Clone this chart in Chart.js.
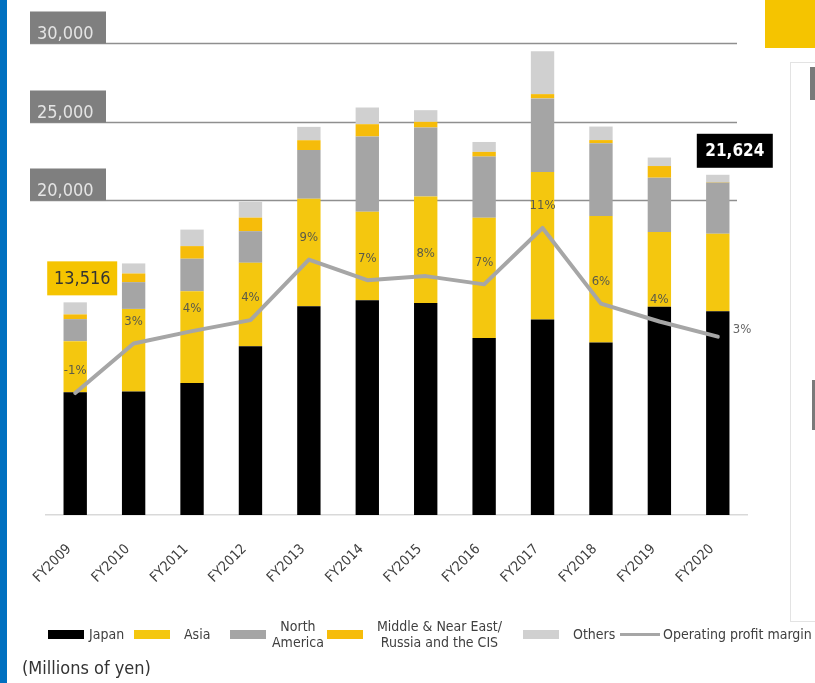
<!DOCTYPE html>
<html>
<head>
<meta charset="utf-8">
<script src="https://cdn.jsdelivr.net/npm/chart.js@4.4.1/dist/chart.umd.min.js"></script>
<style>
    body { margin: 0; background: #fff; font-family: "DejaVu Sans Condensed", "DejaVu Sans", sans-serif; }
    #page { position: relative; width: 815px; height: 683px; overflow: hidden; background: #fff; }
    #chartBox { position: absolute; left: 0; top: 0; width: 815px; height: 683px; }
    .blue-strip { position: absolute; left: 0; top: 0; width: 7px; height: 683px; background: #0070c0; }
    .yellow-block { position: absolute; left: 765px; top: 0; width: 50px; height: 48px; background: #f5c400; }
    .side-panel { position: absolute; left: 790px; top: 62px; width: 40px; height: 558px; border-left: 1px solid #e3e3e3; border-top: 1px solid #e3e3e3; border-bottom: 1px solid #e3e3e3; }
    .side-mark { position: absolute; background: #7a7a7a; }
    .legend-item { position: absolute; top: 619px; height: 30px; display: flex; align-items: center; font-size: 14px; color: #404040; white-space: nowrap; }
    .legend-item .swatch { width: 36px; height: 9px; margin-right: 5px; }
    .legend-item .line-swatch { width: 40px; height: 3px; margin-right: 3px; }
    .legend-item span.two { text-align: center; line-height: 16px; }
    #unit { position: absolute; left: 22px; top: 657px; font-size: 18px; color: #333; }
</style>
</head>
<body>
<div id="page">
    <div class="blue-strip"></div>
    <div class="yellow-block"></div>
    <div class="side-panel"></div>
    <div class="side-mark" style="left:810px;top:67px;width:6px;height:33px;"></div>
    <div class="side-mark" style="left:812px;top:380px;width:4px;height:50px;"></div>
    <div id="chartBox"><canvas id="chart"></canvas></div>
    <div id="legend"></div>
    <div id="unit">(Millions of yen)</div>
</div>
<script>
// Net sales by region (millions of yen) and operating profit margin (%)
const years = ['FY2009', 'FY2010', 'FY2011', 'FY2012', 'FY2013', 'FY2014',
    'FY2015', 'FY2016', 'FY2017', 'FY2018', 'FY2019', 'FY2020'];
const japan = [7800, 7850, 8390, 10720, 13270, 13650, 13480, 11250, 12420, 10970, 13230, 12950];
const asia = [3250, 5250, 5830, 5310, 6830, 5630, 6760, 7650, 9380, 8030, 4750, 4930];
const northAmerica = [1400, 1700, 2070, 2010, 3100, 4780, 4390, 3880, 4680, 4630, 3460, 3250];
const middleEast = [300, 550, 800, 860, 620, 780, 360, 300, 270, 200, 740, 30];
const others = [766, 640, 1050, 1000, 850, 1060, 740, 630, 2720, 860, 540, 464];
const margin = [-1.0, 2.6, 3.5, 4.3, 8.7, 7.2, 7.5, 6.9, 11.0, 5.5, 4.2, 3.1];
const yTicks = [20000, 25000, 30000];

const seriesNames = ['Japan', 'Asia', 'North\nAmerica', 'Middle & Near East/\nRussia and the CIS', 'Others', 'Operating profit margin'];
const seriesColors = ['#000000', '#f4c70f', '#a5a5a5', '#f6bc0a', '#d0d0d0', '#a6a6a6'];

const tickFont = '"DejaVu Sans Condensed", "DejaVu Sans", sans-serif';

function totalAt(i) {
    return japan[i] + asia[i] + northAmerica[i] + middleEast[i] + others[i];
}

// Tick boxes + grid lines drawn behind the bars
const gridPlugin = {
    id: 'gridBoxes',
    beforeDatasetsDraw(chart) {
        const ctx = chart.ctx;
        const y = chart.scales.y;
        ctx.save();
        yTicks.forEach(v => {
            const py = Math.round(y.getPixelForValue(v)) + 0.5;
            ctx.strokeStyle = '#8f8f8f';
            ctx.lineWidth = 1.5;
            ctx.beginPath();
            ctx.moveTo(30, py);
            ctx.lineTo(737, py);
            ctx.stroke();
            ctx.fillStyle = '#7f7f7f';
            ctx.fillRect(30, py - 32, 76, 32);
            ctx.fillStyle = '#e4e4e4';
            ctx.font = '18px ' + tickFont;
            ctx.textAlign = 'left';
            ctx.textBaseline = 'alphabetic';
            ctx.fillText(v.toLocaleString('en-US'), 37, py - 5);
        });
        ctx.restore();
    }
};

// Margin labels and total callouts
const labelPlugin = {
    id: 'labels',
    afterDatasetsDraw(chart) {
        const ctx = chart.ctx;
        const meta = chart.getDatasetMeta(5);
        const x = chart.scales.x;
        const y = chart.scales.y;
        ctx.save();
        ctx.font = '13px ' + tickFont;
        ctx.fillStyle = '#5a5a4a';
        ctx.textBaseline = 'middle';
        meta.data.forEach((pt, i) => {
            const txt = Math.round(margin[i]) + '%';
            if (i === meta.data.length - 1) {
                ctx.textAlign = 'left';
                ctx.fillStyle = '#666';
                ctx.fillText(txt, pt.x + 15, pt.y - 7);
            } else {
                ctx.textAlign = 'center';
                ctx.fillText(txt, pt.x, pt.y - 22);
            }
        });

        // first year total (yellow box)
        const first = 0;
        const last = years.length - 1;
        let bx = x.getPixelForValue(first) + 7;
        let by = y.getPixelForValue(totalAt(first)) - 7;
        ctx.fillStyle = '#f5c400';
        ctx.fillRect(bx - 35, by - 34, 70, 34);
        ctx.fillStyle = '#333';
        ctx.font = '18px ' + tickFont;
        ctx.textAlign = 'center';
        ctx.fillText(Math.round(totalAt(first)).toLocaleString('en-US'), bx, by - 16);

        // last year total (black box)
        bx = x.getPixelForValue(last) + 17;
        by = y.getPixelForValue(totalAt(last)) - 7;
        ctx.fillStyle = '#000';
        ctx.fillRect(bx - 38, by - 34, 76, 34);
        ctx.fillStyle = '#fff';
        ctx.font = 'bold 17px ' + tickFont;
        ctx.fillText(Math.round(totalAt(last)).toLocaleString('en-US'), bx, by - 16);
        ctx.restore();
    }
};

function barSet(label, data, color) {
    return {
        type: 'bar',
        label: label,
        data: data,
        backgroundColor: color,
        borderWidth: 0,
        barPercentage: 0.4,
        categoryPercentage: 1.0,
        stack: 'sales',
        yAxisID: 'y',
        order: 1
    };
}

const ctx = document.getElementById('chart');
const chart = new Chart(ctx, {
    data: {
        labels: years,
        datasets: [
            barSet('Japan', japan, seriesColors[0]),
            barSet('Asia', asia, seriesColors[1]),
            barSet('North America', northAmerica, seriesColors[2]),
            barSet('Middle & Near East/Russia and the CIS', middleEast, seriesColors[3]),
            barSet('Others', others, seriesColors[4]),
            {
                type: 'line',
                label: 'Operating profit margin',
                data: margin,
                borderColor: seriesColors[5],
                borderWidth: 4,
                pointRadius: 0,
                tension: 0,
                borderJoinStyle: 'round',
                borderCapStyle: 'round',
                yAxisID: 'y1',
                order: 0
            }
        ]
    },
    options: {
        responsive: true,
        maintainAspectRatio: false,
        animation: false,
        layout: { padding: { left: 46, right: 68, top: 43, bottom: 88 } },
        plugins: {
            legend: { display: false },
            tooltip: { enabled: false }
        },
        scales: {
            x: {
                stacked: true,
                grid: { display: false },
                border: { display: true, color: '#d9d9d9', width: 1.5 },
                ticks: {
                    color: '#404040',
                    font: { family: tickFont, size: 14 },
                    minRotation: 45,
                    maxRotation: 45,
                    padding: 18,
                    labelOffset: -6
                },
                afterFit: s => { s.height = 80; }
            },
            y: {
                stacked: true,
                display: false,
                min: 0,
                max: 30000
            },
            y1: {
                display: false,
                min: -9.87,
                max: 24.45
            }
        }
    },
    plugins: [gridPlugin, labelPlugin]
});

// HTML legend
const legendLeft = [48, 134, 230, 327, 523, 620];
const legend = document.getElementById('legend');
seriesNames.forEach((name, i) => {
    const item = document.createElement('div');
    item.className = 'legend-item';
    item.style.left = legendLeft[i] + 'px';
    const sw = document.createElement('div');
    sw.className = i === 5 ? 'line-swatch' : 'swatch';
    sw.style.background = seriesColors[i];
    item.appendChild(sw);
    const txt = document.createElement('span');
    if (name.includes('\n')) {
        txt.className = 'two';
        txt.innerHTML = name.split('\n').join('<br>');
        txt.style.marginLeft = i === 2 ? '1px' : '9px';
    } else {
        txt.textContent = name;
        if (i === 1 || i === 4) txt.style.marginLeft = '9px';
    }
    item.appendChild(txt);
    legend.appendChild(item);
});
</script>
</body>
</html>
